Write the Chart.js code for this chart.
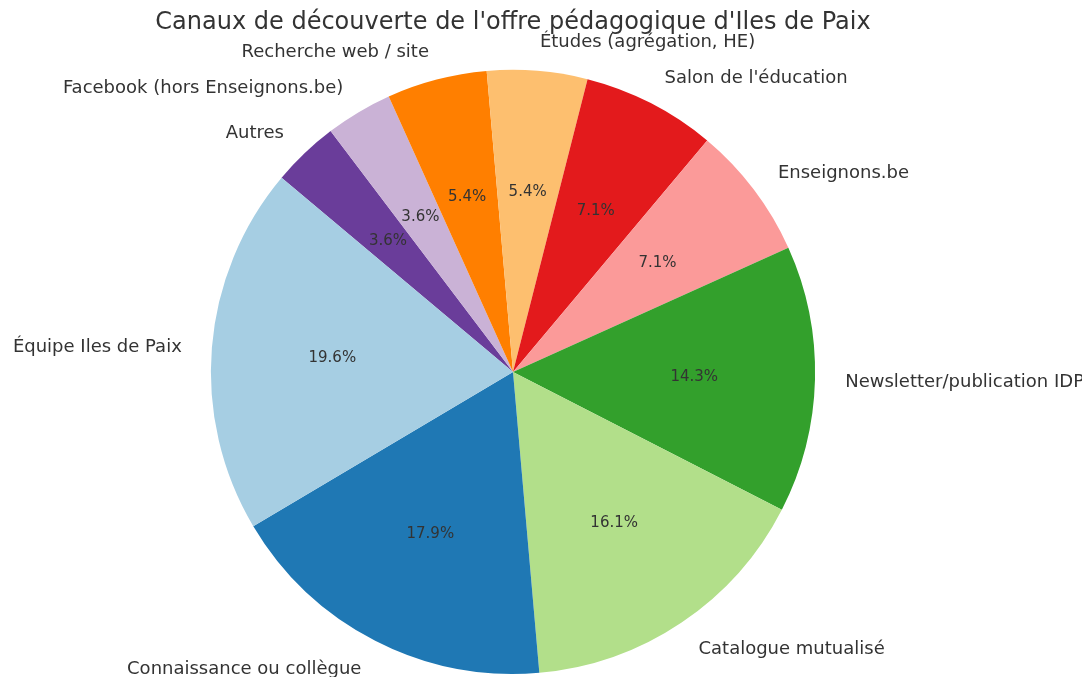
<!DOCTYPE html>
<html lang="fr">
<head>
<meta charset="utf-8">
<title>Canaux de découverte</title>
<script src="https://cdn.jsdelivr.net/npm/chart.js@4/dist/chart.umd.min.js"></script>
<style>
  html, body { margin: 0; padding: 0; background: #fff; }
  canvas { display: block; }
</style>
</head>
<body>
<canvas id="pieChart" width="1082" height="677"></canvas>
<script>
// Données (ordre matplotlib, sens anti-horaire)
const categories = [
  'Équipe Iles de Paix',
  'Connaissance ou collègue',
  'Catalogue mutualisé',
  'Newsletter/publication IDP',
  'Enseignons.be',
  "Salon de l'éducation",
  'Études (agrégation, HE)',
  'Recherche web / site',
  'Facebook (hors Enseignons.be)',
  'Autres'
];
const counts = [11, 10, 9, 8, 4, 4, 3, 3, 2, 2];
const colors = [
  '#a6cee3', '#1f78b4', '#b2df8a', '#33a02c', '#fb9a99',
  '#e31a1c', '#fdbf6f', '#ff7f00', '#cab2d6', '#6a3d9a'
];

const textColor = '#333333';
const fontFamily = "'DejaVu Sans', sans-serif";

// Chart.js tourne dans le sens horaire : on inverse l'ordre
const labelsCw = categories.slice().reverse();
const countsCw = counts.slice().reverse();
const colorsCw = colors.slice().reverse();
const total = counts.reduce((a, b) => a + b, 0);

// Étiquettes extérieures et pourcentages
const pieLabels = {
  id: 'pieLabels',
  afterDatasetsDraw(chart) {
    const ctx = chart.ctx;
    const meta = chart.getDatasetMeta(0);
    ctx.save();
    ctx.fillStyle = textColor;
    ctx.textBaseline = 'middle';
    meta.data.forEach((arc, i) => {
      const p = arc.getProps(['x', 'y', 'startAngle', 'endAngle', 'outerRadius'], true);
      const mid = (p.startAngle + p.endAngle) / 2;
      const r = p.outerRadius;

      // pourcentage à 0.6 r
      ctx.font = '15px ' + fontFamily;
      ctx.textAlign = 'center';
      const pct = (countsCw[i] / total * 100).toFixed(1) + '%';
      ctx.fillText(pct, p.x + 0.6 * r * Math.cos(mid), p.y + 0.6 * r * Math.sin(mid) + 1);

      // libellé à 1.1 r
      const lx = p.x + 1.1 * r * Math.cos(mid);
      const ly = p.y + 1.1 * r * Math.sin(mid);
      ctx.font = '18px ' + fontFamily;
      ctx.textAlign = lx > p.x ? 'left' : 'right';
      ctx.fillText(labelsCw[i], lx, ly + 2);
    });
    ctx.restore();
  }
};

new Chart(document.getElementById('pieChart'), {
  type: 'pie',
  data: {
    labels: labelsCw,
    datasets: [{
      data: countsCw,
      backgroundColor: colorsCw,
      borderWidth: 0
    }]
  },
  options: {
    responsive: false,
    animation: false,
    rotation: -50,
    layout: {
      padding: { top: 0, bottom: 3, left: 0, right: 56 }
    },
    plugins: {
      legend: { display: false },
      tooltip: { enabled: false },
      title: {
        display: true,
        text: "Canaux de découverte de l'offre pédagogique d'Iles de Paix",
        color: textColor,
        font: { family: fontFamily, size: 24, weight: 'normal' },
        padding: { top: 8, bottom: 33 }
      }
    }
  },
  plugins: [pieLabels]
});
</script>
</body>
</html>
